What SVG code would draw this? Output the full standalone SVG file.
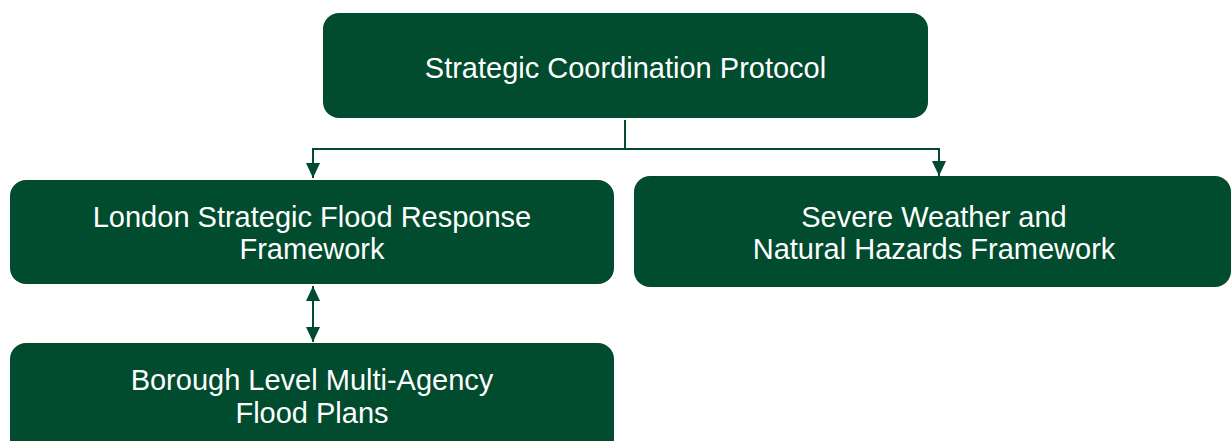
<svg xmlns="http://www.w3.org/2000/svg" width="1232" height="441" viewBox="0 0 1232 441">
  <defs>
    <style>
      .box { fill: #014b2e; }
      .label { font-family: "Liberation Sans", Arial, sans-serif; font-size: 29px; fill: #ffffff; text-anchor: middle; }
      .wire { fill: none; stroke: #014b2e; stroke-width: 2; }
    </style>
    <marker id="arrow" viewBox="0 0 15 14" refX="15" refY="7" markerWidth="15" markerHeight="14" markerUnits="userSpaceOnUse" orient="auto-start-reverse">
      <path d="M0,0 L15,7 L0,14 Z" fill="#014b2e"/>
    </marker>
  </defs>

  <g id="connectors">
    <line x1="625" y1="120" x2="625" y2="150" class="wire" stroke-width="3"/>
    <polyline points="625,149 313,149 313,178" class="wire" marker-end="url(#arrow)"/>
    <polyline points="625,149 939,149 939,176" class="wire" marker-end="url(#arrow)"/>
    <line x1="313" y1="286" x2="313" y2="342" class="wire" marker-start="url(#arrow)" marker-end="url(#arrow)"/>
  </g>

  <g id="strategic-coordination">
    <rect class="box" x="323" y="13" width="605" height="105" rx="16"/>
    <text class="label" x="625.5" y="78">Strategic Coordination Protocol</text>
  </g>

  <g id="london-flood-framework">
    <rect class="box" x="10" y="180" width="604" height="104" rx="16"/>
    <text class="label" x="312" y="227">London Strategic Flood Response</text>
    <text class="label" x="312" y="259">Framework</text>
  </g>

  <g id="severe-weather-framework">
    <rect class="box" x="634" y="176" width="597" height="111" rx="16"/>
    <text class="label" x="934" y="227">Severe Weather and</text>
    <text class="label" x="934" y="259">Natural Hazards Framework</text>
  </g>

  <g id="borough-flood-plans">
    <rect class="box" x="10" y="343" width="604" height="115" rx="16"/>
    <text class="label" x="312" y="390">Borough Level Multi-Agency</text>
    <text class="label" x="312" y="423">Flood Plans</text>
  </g>
</svg>
